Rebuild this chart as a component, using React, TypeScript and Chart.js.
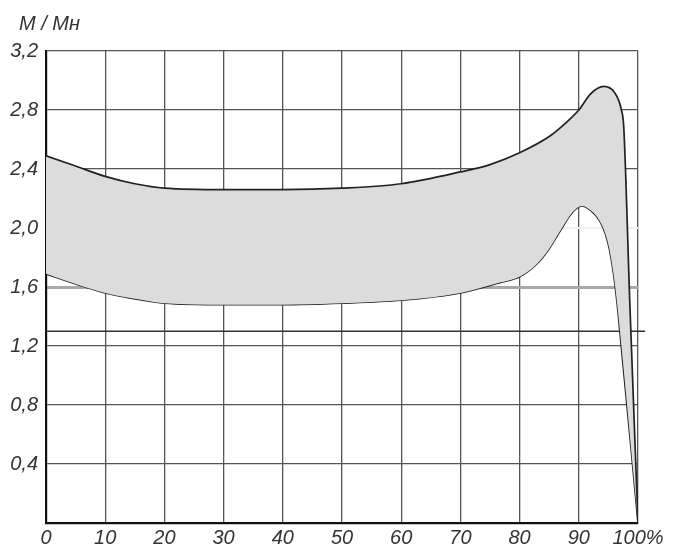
import React, { useEffect, useRef } from "react";
import { Chart, registerables } from "chart.js";

Chart.register(...registerables);

// Upper boundary of the band (M / Mн vs %)
const upperX = [0, 5, 10, 15, 20, 30, 40, 50, 60, 70, 75, 80, 85, 88, 90, 92, 94.2, 96, 97.2, 97.6, 98.6, 100];
const upperY = [2.49, 2.42, 2.35, 2.3, 2.27, 2.26, 2.26, 2.27, 2.3, 2.38, 2.43, 2.51, 2.62, 2.72, 2.8, 2.91, 2.96, 2.92, 2.8, 2.68, 1.51, 0];

// Lower boundary of the band
const lowerX = [0, 5, 10, 15, 20, 30, 40, 50, 60, 70, 76.7, 80, 83, 85, 87, 89, 90.5, 92, 93.5, 94.5, 95.2, 96, 96.6, 100];
const lowerY = [1.69, 1.62, 1.56, 1.52, 1.49, 1.48, 1.48, 1.49, 1.51, 1.56, 1.63, 1.67, 1.76, 1.86, 1.99, 2.11, 2.15, 2.12, 2.05, 1.96, 1.85, 1.65, 1.44, 0];

// Reference line (extends slightly past the right edge)
const refLineX = [0, 101.2];
const refLineY = [1.3, 1.3];

const xTickLabels = ["0", "10", "20", "30", "40", "50", "60", "70", "80", "90", "100%"];
const yTickLabels = ["", "0,4", "0,8", "1,2", "1,6", "2,0", "2,4", "2,8", "3,2"];
const titleText = "M / Mн";

const toPoints = (xs: number[], ys: number[]) => xs.map((x, i) => ({ x, y: ys[i] }));

const FONT_FAMILY = "'Liberation Sans', Arial, sans-serif";

const titlePlugin = {
  id: "cornerTitle",
  afterDraw(chart: any) {
    const { ctx, chartArea } = chart;
    ctx.save();
    ctx.font = `italic 20px ${FONT_FAMILY}`;
    ctx.fillStyle = "#333";
    ctx.textAlign = "left";
    ctx.textBaseline = "alphabetic";
    ctx.fillText(titleText, chartArea.left - 27, chartArea.top - 21);
    ctx.restore();
  },
};

export default function App() {
  const ref = useRef<HTMLCanvasElement | null>(null);

  useEffect(() => {
    if (!ref.current) return;
    const font = { family: FONT_FAMILY, size: 20, style: "italic" as const };
    const near = (a: number, b: number) => Math.abs(a - b) < 1e-6;
    const chart = new Chart(ref.current, {
      type: "line",
      plugins: [titlePlugin],
      data: {
        datasets: [
          {
            label: "upper",
            data: toPoints(upperX, upperY),
            borderColor: "#222",
            borderWidth: 1.7,
            pointRadius: 0,
            cubicInterpolationMode: "monotone",
            fill: 1,
            backgroundColor: "#dcdcdc",
          },
          {
            label: "lower",
            data: toPoints(lowerX, lowerY),
            borderColor: "#222",
            borderWidth: 1.7,
            pointRadius: 0,
            cubicInterpolationMode: "monotone",
            fill: false,
          },
          {
            label: "ref",
            data: toPoints(refLineX, refLineY),
            borderColor: "#333",
            borderWidth: 1.4,
            pointRadius: 0,
            fill: false,
            clip: false as any,
          },
        ],
      },
      options: {
        animation: false,
        responsive: true,
        maintainAspectRatio: false,
        layout: { padding: { left: 0, right: 38, top: 51, bottom: 0 } },
        plugins: {
          legend: { display: false },
          tooltip: { enabled: false },
          title: { display: false },
        },
        scales: {
          x: {
            type: "linear",
            min: 0,
            max: 100,
            z: 1,
            afterFit: (s: any) => {
              s.height = 24;
            },
            ticks: {
              stepSize: 10,
              color: "#333",
              font,
              padding: 3,
              maxRotation: 0,
              autoSkip: false,
              callback: (v: any) => xTickLabels[Math.round(Number(v) / 10)] ?? "",
            },
            grid: { color: "#555", lineWidth: 1.3, drawTicks: false },
            border: { color: "#111", width: 2.2 },
          },
          y: {
            type: "linear",
            min: 0,
            max: 3.2,
            z: 1,
            afterFit: (s: any) => {
              s.width = 46;
            },
            ticks: {
              stepSize: 0.4,
              color: "#333",
              font,
              padding: 8,
              autoSkip: false,
              callback: (v: any) => yTickLabels[Math.round(Number(v) / 0.4)] ?? "",
            },
            grid: {
              drawTicks: false,
              color: (ctx: any) => {
                const v = ctx.tick?.value ?? 0;
                if (near(v, 1.6)) return "#a8a8a8";
                if (near(v, 2.0)) return "#f0f0f0";
                return "#555";
              },
              lineWidth: (ctx: any) => {
                const v = ctx.tick?.value ?? 0;
                if (near(v, 1.6)) return 3;
                if (near(v, 2.0)) return 2;
                return 1.3;
              },
            },
            border: { color: "#111", width: 2.2 },
          },
        },
      },
    });
    return () => chart.destroy();
  }, []);

  return (
    <div style={{ position: "absolute", left: 0, top: 0, width: 676, height: 547 }}>
      <canvas ref={ref} />
    </div>
  );
}
